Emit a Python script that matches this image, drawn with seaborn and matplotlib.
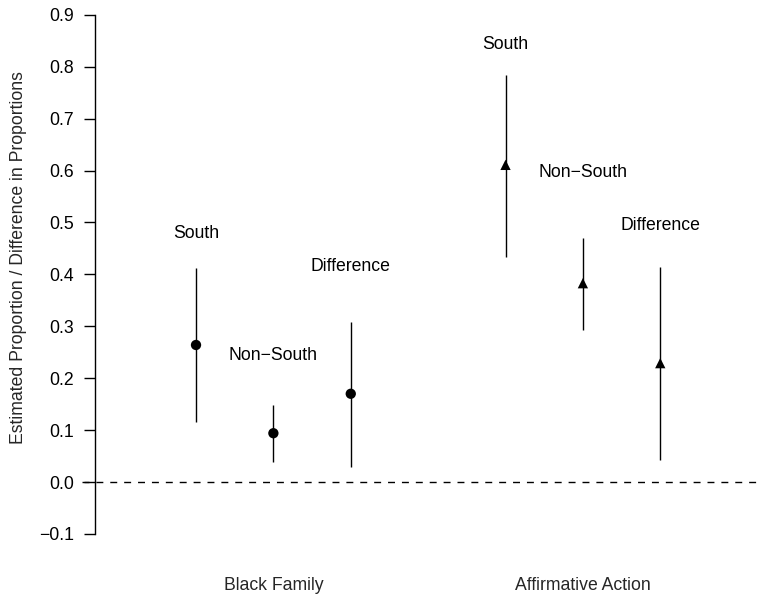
import matplotlib
matplotlib.use("Agg")
import matplotlib.pyplot as plt
import seaborn as sns
import pandas as pd

# Estimates with confidence bounds, by issue and region
issues = ["Black Family", "Affirmative Action"]
groups = ["South", "Non\u2212South", "Difference"]
estimate = {
    "Black Family": [0.264, 0.094, 0.170],
    "Affirmative Action": [0.611, 0.383, 0.229],
}
lower = {
    "Black Family": [0.116, 0.039, 0.029],
    "Affirmative Action": [0.434, 0.293, 0.042],
}
upper = {
    "Black Family": [0.412, 0.148, 0.308],
    "Affirmative Action": [0.784, 0.470, 0.414],
}
# heights at which each group name is written
label_y = {
    "Black Family": [0.471, 0.236, 0.406],
    "Affirmative Action": [0.834, 0.588, 0.486],
}
y_ticks = [-0.1, 0.0, 0.1, 0.2, 0.3, 0.4, 0.5, 0.6, 0.7, 0.8, 0.9]

rows = []
for i, issue in enumerate(issues):
    for j, g in enumerate(groups):
        rows.append({
            "issue": issue, "group": g, "pos": 1 + 4 * i + j,
            "est": estimate[issue][j], "lo": lower[issue][j],
            "hi": upper[issue][j], "ly": label_y[issue][j],
        })
df = pd.DataFrame(rows)

sns.set_style("white")
plt.rcParams["font.family"] = ["Liberation Sans", "DejaVu Sans"]
FS = 12.7

fig = plt.figure(figsize=(7.61, 5.97), dpi=100)
ax = fig.add_axes([0.1078, 0.0622, 0.892, 0.9303])
ax.set_xlim(-0.473, 8.30)
ax.set_ylim(-0.15, 0.92)

# zero reference line
ax.axhline(0, color="black", lw=1, ls=(0, (5, 5)), zorder=1)

# confidence intervals
ax.vlines(df["pos"], df["lo"], df["hi"], color="black", lw=1.0, zorder=2)

# point estimates
sns.scatterplot(data=df, x="pos", y="est", style="issue",
                markers={"Black Family": "o", "Affirmative Action": "^"},
                s=55, color="black", edgecolor="black", linewidth=0,
                legend=False, ax=ax, zorder=3)

for _, r in df.iterrows():
    ax.text(r["pos"], r["ly"], r["group"], ha="center", va="baseline",
            fontsize=FS, color="black")

# left axis only
for side in ["top", "right", "bottom"]:
    ax.spines[side].set_visible(False)
ax.spines["left"].set_position(("data", -0.305))
ax.spines["left"].set_bounds(-0.1, 0.9)
ax.spines["left"].set_linewidth(1.0)
ax.spines["left"].set_color("black")
ax.set_yticks(y_ticks)
ax.set_yticklabels([f"{t:.1f}".replace("-", "\u2212") for t in y_ticks])
ax.tick_params(axis="y", left=True, length=8, width=1.0, pad=7,
               labelsize=FS, colors="black")
ax.set_xticks([])
ax.set_xlabel("")
ax.set_ylabel("")

fig.text(19 / 761, 1 - 258 / 597,
         "Estimated Proportion / Difference in Proportions",
         rotation=90, ha="center", va="center", fontsize=FS)

# issue names beneath the plot, centred under the middle group
for i, issue in enumerate(issues):
    xc = 2 + 4 * i
    ax.text(xc, -(590 - 559.9) / (559.9 - 4.5), issue, ha="center",
            va="baseline", fontsize=FS,
            transform=ax.get_xaxis_transform(), clip_on=False)

fig.savefig("out.png", dpi=100)
